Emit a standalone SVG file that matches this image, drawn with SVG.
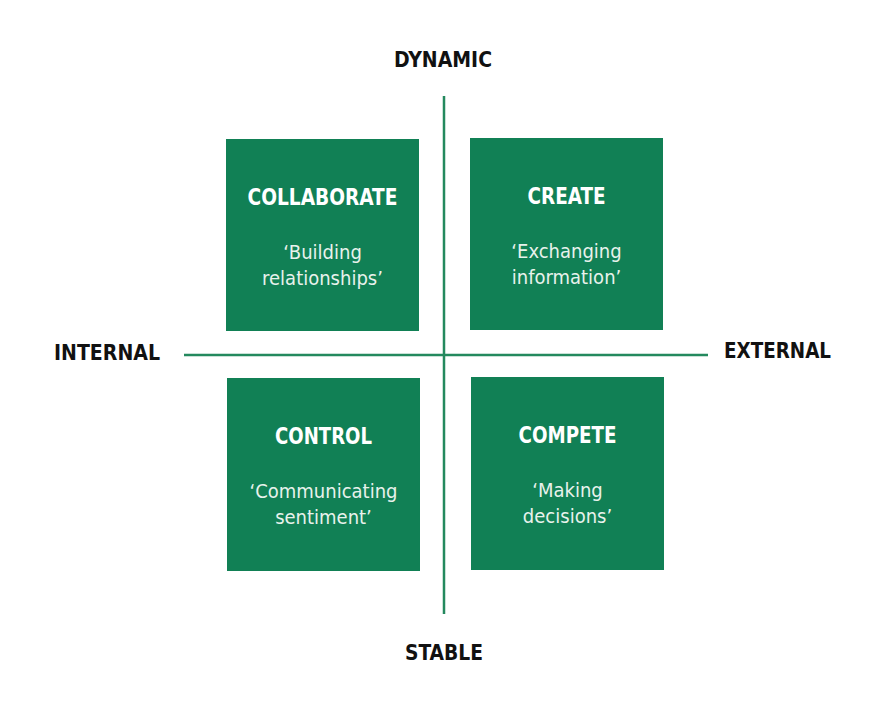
<svg xmlns="http://www.w3.org/2000/svg" width="890" height="712" viewBox="0 0 890 712">
<style>
.box{fill:#118055}
.ax{stroke:#24895e;stroke-width:2.5}
.lbl{font-family:"DejaVu Sans Condensed","DejaVu Sans",sans-serif;font-stretch:condensed;font-weight:bold;font-size:21px;fill:#111;text-anchor:middle}
.t{font-family:"DejaVu Sans Condensed","DejaVu Sans",sans-serif;font-stretch:condensed;font-weight:bold;font-size:23px;fill:#fff;text-anchor:middle}
.s{font-family:"DejaVu Sans Condensed","DejaVu Sans",sans-serif;font-stretch:condensed;font-size:20px;fill:#e8f2ec;text-anchor:middle}
</style>
<rect width="890" height="712" fill="#fff"/>
<g id="connectors">
<line class="ax" x1="444" y1="96" x2="444" y2="614"/>
<line class="ax" x1="184" y1="355" x2="708" y2="355"/>
</g>
<g id="dynamic"><text class="lbl" x="443" y="67" textLength="98" lengthAdjust="spacingAndGlyphs">DYNAMIC</text></g>
<g id="stable"><text class="lbl" x="444" y="660" textLength="78" lengthAdjust="spacingAndGlyphs">STABLE</text></g>
<g id="internal"><text class="lbl" x="107" y="360" textLength="106" lengthAdjust="spacingAndGlyphs">INTERNAL</text></g>
<g id="external"><text class="lbl" x="777.5" y="358" textLength="107" lengthAdjust="spacingAndGlyphs">EXTERNAL</text></g>
<g id="collaborate">
<rect class="box" x="226" y="139" width="193" height="192"/>
<text class="t" x="322.5" y="205" textLength="150" lengthAdjust="spacingAndGlyphs">COLLABORATE</text>
<text class="s" x="322.5" y="259">‘Building</text>
<text class="s" x="322.5" y="285">relationships’</text>
</g>
<g id="create">
<rect class="box" x="470" y="138" width="193" height="192"/>
<text class="t" x="566.5" y="204" textLength="78" lengthAdjust="spacingAndGlyphs">CREATE</text>
<text class="s" x="566.5" y="258">‘Exchanging</text>
<text class="s" x="566.5" y="284">information’</text>
</g>
<g id="control">
<rect class="box" x="227" y="378" width="193" height="193"/>
<text class="t" x="323.5" y="444" textLength="97" lengthAdjust="spacingAndGlyphs">CONTROL</text>
<text class="s" x="323.5" y="498">‘Communicating</text>
<text class="s" x="323.5" y="524">sentiment’</text>
</g>
<g id="compete">
<rect class="box" x="471" y="377" width="193" height="193"/>
<text class="t" x="567.5" y="443" textLength="98" lengthAdjust="spacingAndGlyphs">COMPETE</text>
<text class="s" x="567.5" y="497">‘Making</text>
<text class="s" x="567.5" y="523">decisions’</text>
</g>
</svg>
